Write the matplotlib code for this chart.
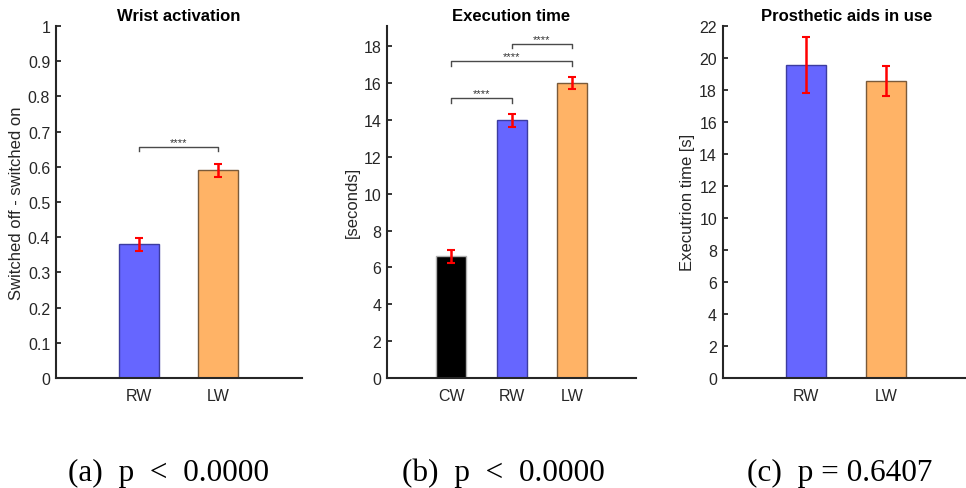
import matplotlib
matplotlib.use("Agg")
import matplotlib.pyplot as plt
import numpy as np

# ---- data ----
wrist_cats = ["RW", "LW"]
wrist_vals = [0.38, 0.59]
wrist_err = [0.018, 0.018]

exec_cats = ["CW", "RW", "LW"]
exec_vals = [6.6, 13.97, 16.0]
exec_err = [0.36, 0.37, 0.34]

aids_cats = ["RW", "LW"]
aids_vals = [19.53, 18.57]
aids_err = [1.75, 0.95]

titles = ["Wrist activation", "Execution time", "Prosthetic aids in use"]
ylabels = ["Switched off - switched on", "[seconds]", "Executrion time [s]"]
captions = ["(a)  p\u2002<\u20020.0000", "(b)  p\u2002<\u20020.0000", "(c)  p = 0.6407"]

# significance brackets: (i, j, y level)
wrist_sig = [(0, 1, 0.656)]
exec_sig = [(0, 1, 15.17), (0, 2, 17.19), (1, 2, 18.13)]

face = {"CW": "#000000", "RW": "#6666FF", "LW": "#FFB366"}
edge = {"CW": "#b0b0b0", "RW": "#3c3ca0", "LW": "#7a5a3a"}

plt.rcParams["font.family"] = ["Liberation Sans", "DejaVu Sans"]
fig = plt.figure(figsize=(9.66, 4.89), dpi=100)

axc = "#262626"

def make_ax(rect, cats, vals, errs, ylim, yticks, yticklabels, xlim, title, ylabel, sigs, sig_drop):
    ax = fig.add_axes(rect)
    x = np.arange(1, len(cats) + 1)
    ax.bar(x, vals, width=0.5, color=[face[c] for c in cats],
           edgecolor=[edge[c] for c in cats], linewidth=1.0, zorder=2)
    ax.errorbar(x, vals, yerr=errs, fmt="none", ecolor="red", elinewidth=1.8,
                capsize=3, capthick=1.5, zorder=3)
    ax.set_xlim(*xlim)
    ax.set_ylim(*ylim)
    ax.set_yticks(yticks)
    ax.set_yticklabels(yticklabels)
    ax.set_xticks(x)
    ax.set_xticklabels(cats)
    for s in ["top", "right"]:
        ax.spines[s].set_visible(False)
    for s in ["left", "bottom"]:
        ax.spines[s].set_linewidth(1.5)
        ax.spines[s].set_color(axc)
    ax.tick_params(direction="in", length=3.5, width=1.3, color=axc,
                   labelsize=11.5, labelcolor=axc, pad=4)
    ax.tick_params(axis="x", pad=7)
    ax.set_title(title, fontsize=12, fontweight="bold", pad=4)
    ax.set_ylabel(ylabel, fontsize=12, color=axc, labelpad=3)
    for (i, j, yl) in sigs:
        xi, xj = x[i], x[j]
        ax.plot([xi, xi, xj, xj], [yl - sig_drop, yl, yl, yl - sig_drop],
                color="#4a4a4a", linewidth=1.0, zorder=4, clip_on=False)
        ax.text((xi + xj) / 2, yl, "****", ha="center", va="bottom",
                fontsize=8, color="#333333")
    return ax

make_ax([0.0577, 0.225, 0.2547, 0.72], wrist_cats, wrist_vals, wrist_err,
        (0, 1), np.arange(0, 1.01, 0.1),
        ["0", "0.1", "0.2", "0.3", "0.4", "0.5", "0.6", "0.7", "0.8", "0.9", "1"],
        (-0.05, 3.06), titles[0], ylabels[0], wrist_sig, 0.012)

make_ax([0.4006, 0.225, 0.2578, 0.72], exec_cats, exec_vals, exec_err,
        (0, 19.1), np.arange(0, 19, 2), [str(v) for v in range(0, 19, 2)],
        (-0.066, 4.06), titles[1], ylabels[1], exec_sig, 0.25)

make_ax([0.748, 0.225, 0.2574, 0.72], aids_cats, aids_vals, aids_err,
        (0, 22), np.arange(0, 23, 2), [str(v) for v in range(0, 23, 2)],
        (-0.045, 3.06), titles[2], ylabels[2], [], 0)

cap_x = [68 / 966, 402 / 966, 747 / 966]
for cx, cap in zip(cap_x, captions):
    fig.text(cx, 1 - 481 / 489, cap, ha="left", va="baseline",
             fontsize=22.5, family=["Liberation Serif", "DejaVu Serif"])

fig.savefig("out.png", dpi=100)
